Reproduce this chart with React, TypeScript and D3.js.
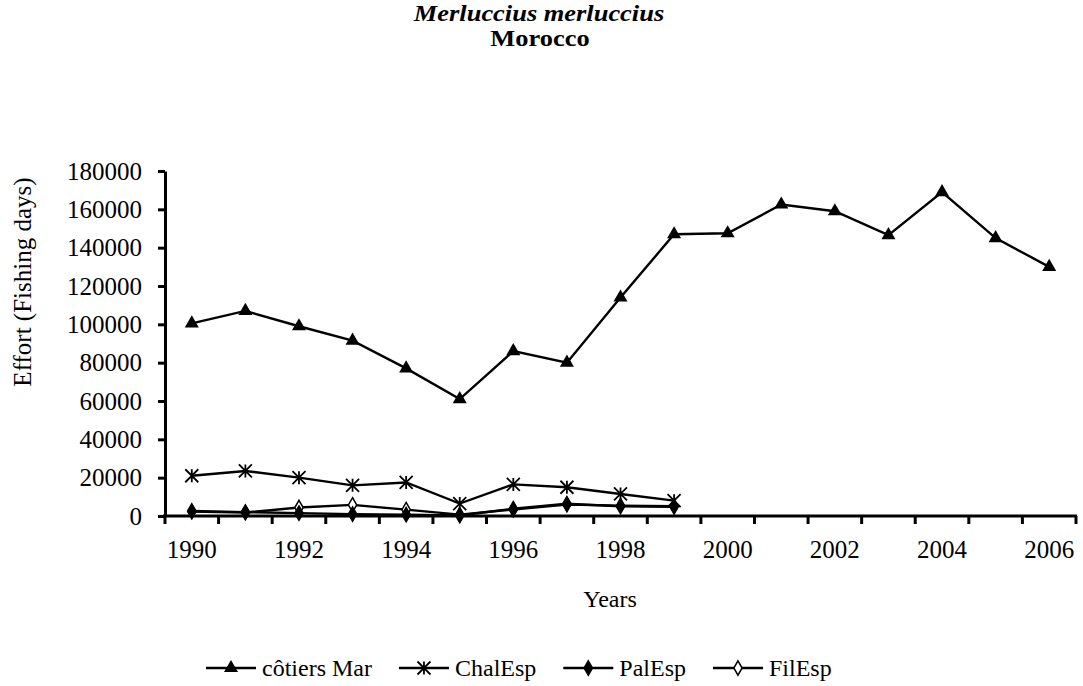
import React, { useEffect, useRef } from 'react'
import * as d3 from 'd3'

const years = d3.range(1990, 2007).map(String)
const labelYears = ['1990', '1992', '1994', '1996', '1998', '2000', '2002', '2004', '2006']
const yTicks = [0, 20000, 40000, 60000, 80000, 100000, 120000, 140000, 160000, 180000]

const cotiersMar = [100500, 107000, 99000, 91500, 77000, 61000, 86000, 80000, 114000, 147000, 147500, 162500, 159000, 146500, 169000, 145000, 130000]
const chalEsp = [21000, 23500, 20000, 16000, 17500, 6500, 16500, 15000, 11500, 8000]
const palEsp = [2600, 2000, 1500, 1000, 700, 300, 3800, 6400, 5000, 4800]
const filEsp = [2300, 1800, 4400, 5800, 3300, 700, 3400, 6000, 5400, 5100]

const seriesNames = ['côtiers Mar', 'ChalEsp', 'PalEsp', 'FilEsp']
const markerKinds = ['triangle', 'star', 'diamond', 'openDiamond']

const FONT = '"Liberation Serif", "Times New Roman", serif'

function drawMarker(g: any, kind: string, cx: number, cy: number) {
  if (kind === 'triangle') {
    g.append('path')
      .attr('d', d3.symbol(d3.symbolTriangle, 85)())
      .attr('transform', `translate(${cx},${cy})`)
      .attr('fill', '#000')
  } else if (kind === 'star') {
    const r = 6.5
    g.append('path')
      .attr('d', `M${cx},${cy - r}V${cy + r}M${cx - r},${cy - r}L${cx + r},${cy + r}M${cx - r},${cy + r}L${cx + r},${cy - r}`)
      .attr('stroke', '#000')
      .attr('stroke-width', 1.8)
      .attr('fill', 'none')
  } else {
    g.append('path')
      .attr('d', d3.symbol(d3.symbolDiamond, 60)())
      .attr('transform', `translate(${cx},${cy})`)
      .attr('fill', kind === 'diamond' ? '#000' : '#fff')
      .attr('stroke', '#000')
      .attr('stroke-width', 1.5)
  }
}

export default function App() {
  const svgRef = useRef<SVGSVGElement>(null)

  useEffect(() => {
    document.body.style.margin = '0'
    if (!svgRef.current) return
    const svg = d3.select(svgRef.current)
    svg.selectAll('*').remove()

    const x = d3.scaleBand().domain(years).range([165, 1076])
    const y = d3.scaleLinear().domain([0, 180000]).range([516, 171])
    const cx = (yr: string) => x(yr)! + x.bandwidth() / 2

    // titles (slightly widened like the source export)
    svg.append('text')
      .attr('transform', 'translate(539,21) scale(1.15,1)')
      .attr('text-anchor', 'middle')
      .attr('font-family', FONT).attr('font-size', 23)
      .attr('font-weight', 'bold').attr('font-style', 'italic')
      .text('Merluccius merluccius')
    svg.append('text')
      .attr('transform', 'translate(540,46) scale(1.15,1)')
      .attr('text-anchor', 'middle')
      .attr('font-family', FONT).attr('font-size', 23)
      .attr('font-weight', 'bold')
      .text('Morocco')

    // y axis
    const yAxis = svg.append('g')
      .attr('transform', 'translate(165,0)')
      .call(d3.axisLeft(y).tickValues(yTicks).tickSize(7).tickSizeOuter(0).tickPadding(16).tickFormat(d3.format('d')))
    yAxis.select('.domain').attr('stroke-width', 3)
    yAxis.selectAll('.tick line').attr('stroke-width', 3)
    yAxis.selectAll('.tick text')
      .attr('font-family', FONT).attr('font-size', 25).attr('fill', '#000')

    // x axis line and band boundary ticks
    const xg = svg.append('g')
    xg.append('line')
      .attr('x1', 163).attr('x2', 1077)
      .attr('y1', y(0)).attr('y2', y(0))
      .attr('stroke', '#000').attr('stroke-width', 3)
    const bounds = years.map(yr => x(yr)!).concat([x.range()[1]])
    xg.selectAll('line.tk').data(bounds).join('line')
      .attr('class', 'tk')
      .attr('x1', d => d).attr('x2', d => d)
      .attr('y1', y(0)).attr('y2', y(0) + 8)
      .attr('stroke', '#000').attr('stroke-width', 3)
    xg.selectAll('text').data(labelYears).join('text')
      .attr('x', d => cx(d)).attr('y', y(0) + 42)
      .attr('text-anchor', 'middle')
      .attr('font-family', FONT).attr('font-size', 25)
      .text(d => d)

    // axis titles
    svg.append('text')
      .attr('transform', 'translate(31,282) rotate(-90)')
      .attr('text-anchor', 'middle')
      .attr('font-family', FONT).attr('font-size', 25)
      .text('Effort (Fishing days)')
    svg.append('text')
      .attr('x', 610).attr('y', 607)
      .attr('text-anchor', 'middle')
      .attr('font-family', FONT).attr('font-size', 24)
      .text('Years')

    // series
    const allSeries = [cotiersMar, chalEsp, palEsp, filEsp]
    const drawOrder = [0, 1, 3, 2]
    const line = d3.line<number>()
      .x((_, i) => cx(years[i]))
      .y(d => y(d))
    drawOrder.forEach(si => {
      const data = allSeries[si]
      const g = svg.append('g')
      g.append('path')
        .datum(data)
        .attr('d', line)
        .attr('fill', 'none')
        .attr('stroke', '#000')
        .attr('stroke-width', 2.4)
      data.forEach((v, i) => drawMarker(g, markerKinds[si], cx(years[i]), y(v)))
    })

    // legend
    const lg = svg.append('g')
    let lx = 206
    const ly = 668
    seriesNames.forEach((name, si) => {
      lg.append('line')
        .attr('x1', lx).attr('x2', lx + 50)
        .attr('y1', ly).attr('y2', ly)
        .attr('stroke', '#000').attr('stroke-width', 2.4)
      drawMarker(lg, markerKinds[si], lx + 25, ly)
      const t = lg.append('text')
        .attr('x', lx + 56).attr('y', ly + 8)
        .attr('font-family', FONT).attr('font-size', 24)
        .text(name)
      const w = (t.node() as SVGTextElement).getComputedTextLength()
      lx += 56 + w + 27
    })
  }, [])

  return <svg ref={svgRef} width={1083} height={686} style={{ display: 'block', background: '#fff' }} />
}
